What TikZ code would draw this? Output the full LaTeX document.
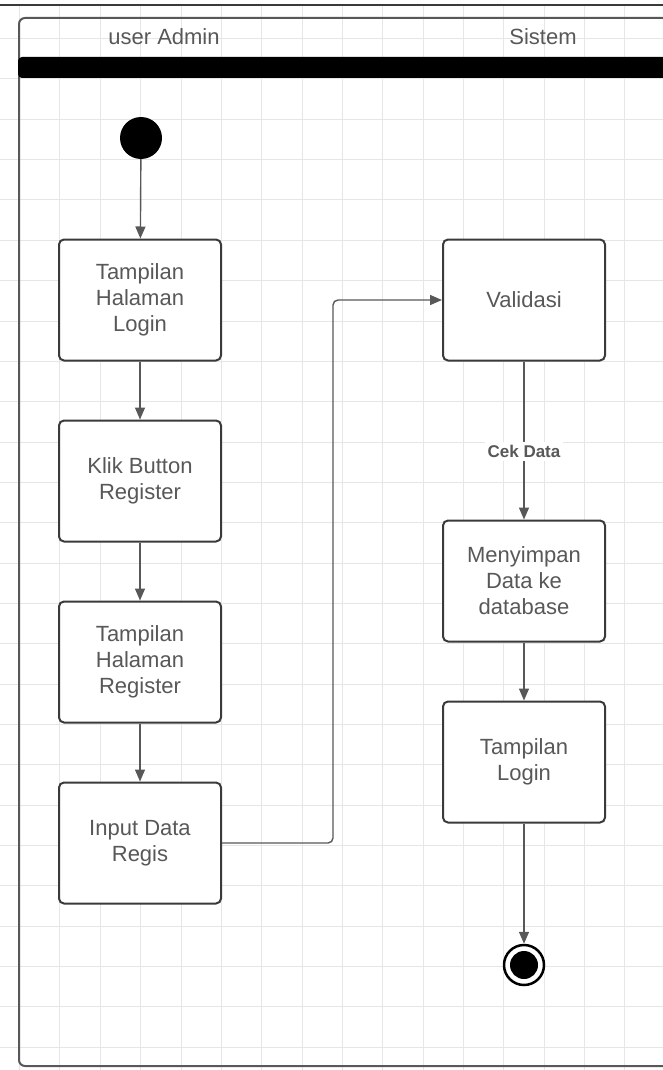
\documentclass[tikz,border=0pt]{standalone}
\usepackage{fontspec}
\setmainfont{Liberation Sans}
\usetikzlibrary{arrows.meta}

\definecolor{borde}{HTML}{3A3A3A}
\definecolor{texto}{HTML}{585858}
\definecolor{rejilla}{HTML}{E6E6E6}

\tikzset{
    actividad/.style={draw=borde, line width=2pt, rounded corners=5pt, fill=white,
        minimum width=162pt, minimum height=121pt, inner sep=0pt, align=center,
        text=texto, font=\fontsize{22}{26}\selectfont},
    flujo/.style={draw=texto, line width=1.4pt, -{Triangle[length=12pt,width=10pt]}},
    encabezado/.style={text=texto, anchor=base, font=\fontsize{22}{26}\selectfont}
}

\begin{document}
\begin{tikzpicture}[x=1pt,y=-1pt]
        % Fija el lienzo.
        \useasboundingbox (0,0) rectangle (663,1070);
        \fill[white] (0,0) rectangle (663,1070);

        % Dibuja la rejilla de fondo.
        \foreach \i in {0,...,16}
            \draw[rejilla, line width=1pt] (19.6+40.35*\i,5) -- (19.6+40.35*\i,1070);
        \foreach \j in {1,...,26}
            \draw[rejilla, line width=1pt] (0,-1.8+40.35*\j) -- (663,-1.8+40.35*\j);

        % Dibuja la linea superior, el marco y la barra negra.
        \draw[borde, line width=2pt] (0,5) -- (663,5);
        \draw[texto, line width=2pt, rounded corners=6pt] (690,18) -- (19,18) -- (19,1066) -- (690,1066);
        \fill[black, rounded corners=4pt] (18,57) rectangle (690,78);

        % Etiqueta las calles.
        \node[encabezado] (admin) at (164,45) {user Admin};
        \node[encabezado] (sistem) at (543,45) {Sistem};

        % Nodo inicial.
        \node[circle, fill=black, minimum size=42pt, inner sep=0pt] (inicio) at (141,138) {};

        % Actividades del usuario.
        \node[actividad] (login) at (140,300) {Tampilan\\Halaman\\Login};
        \node[actividad] (klik) at (140,481) {Klik Button\\Register};
        \node[actividad] (halreg) at (140,662) {Tampilan\\Halaman\\Register};
        \node[actividad] (input) at (140,843) {Input Data\\Regis};

        % Actividades del sistema.
        \node[actividad] (validasi) at (524,300) {Validasi};
        \node[actividad] (simpan) at (524,581) {Menyimpan\\Data ke\\database};
        \node[actividad] (tlogin) at (524,762) {Tampilan\\Login};

        % Nodo final.
        \node[circle, draw=black, line width=2.5pt, fill=white, minimum size=40pt, inner sep=0pt] (fin) at (524,965) {};
        \node[circle, fill=black, minimum size=28pt, inner sep=0pt] (fincentro) at (fin) {};

        % Dibuja los flujos.
        \draw[flujo] (inicio) -- (login);
        \draw[flujo] (login) -- (klik);
        \draw[flujo] (klik) -- (halreg);
        \draw[flujo] (halreg) -- (input);
        \draw[flujo, rounded corners=5pt] (input.east) -- ++(111,0) |- (validasi.west);
        \draw[flujo] (validasi) -- node[pos=0.57, fill=white, inner sep=3pt, text=texto,
            font=\bfseries\fontsize{17}{20}\selectfont] (cek) {Cek Data} (simpan);
        \draw[flujo] (simpan) -- (tlogin);
        \draw[flujo] (tlogin) -- (fin);
    \end{tikzpicture}
\end{document}
